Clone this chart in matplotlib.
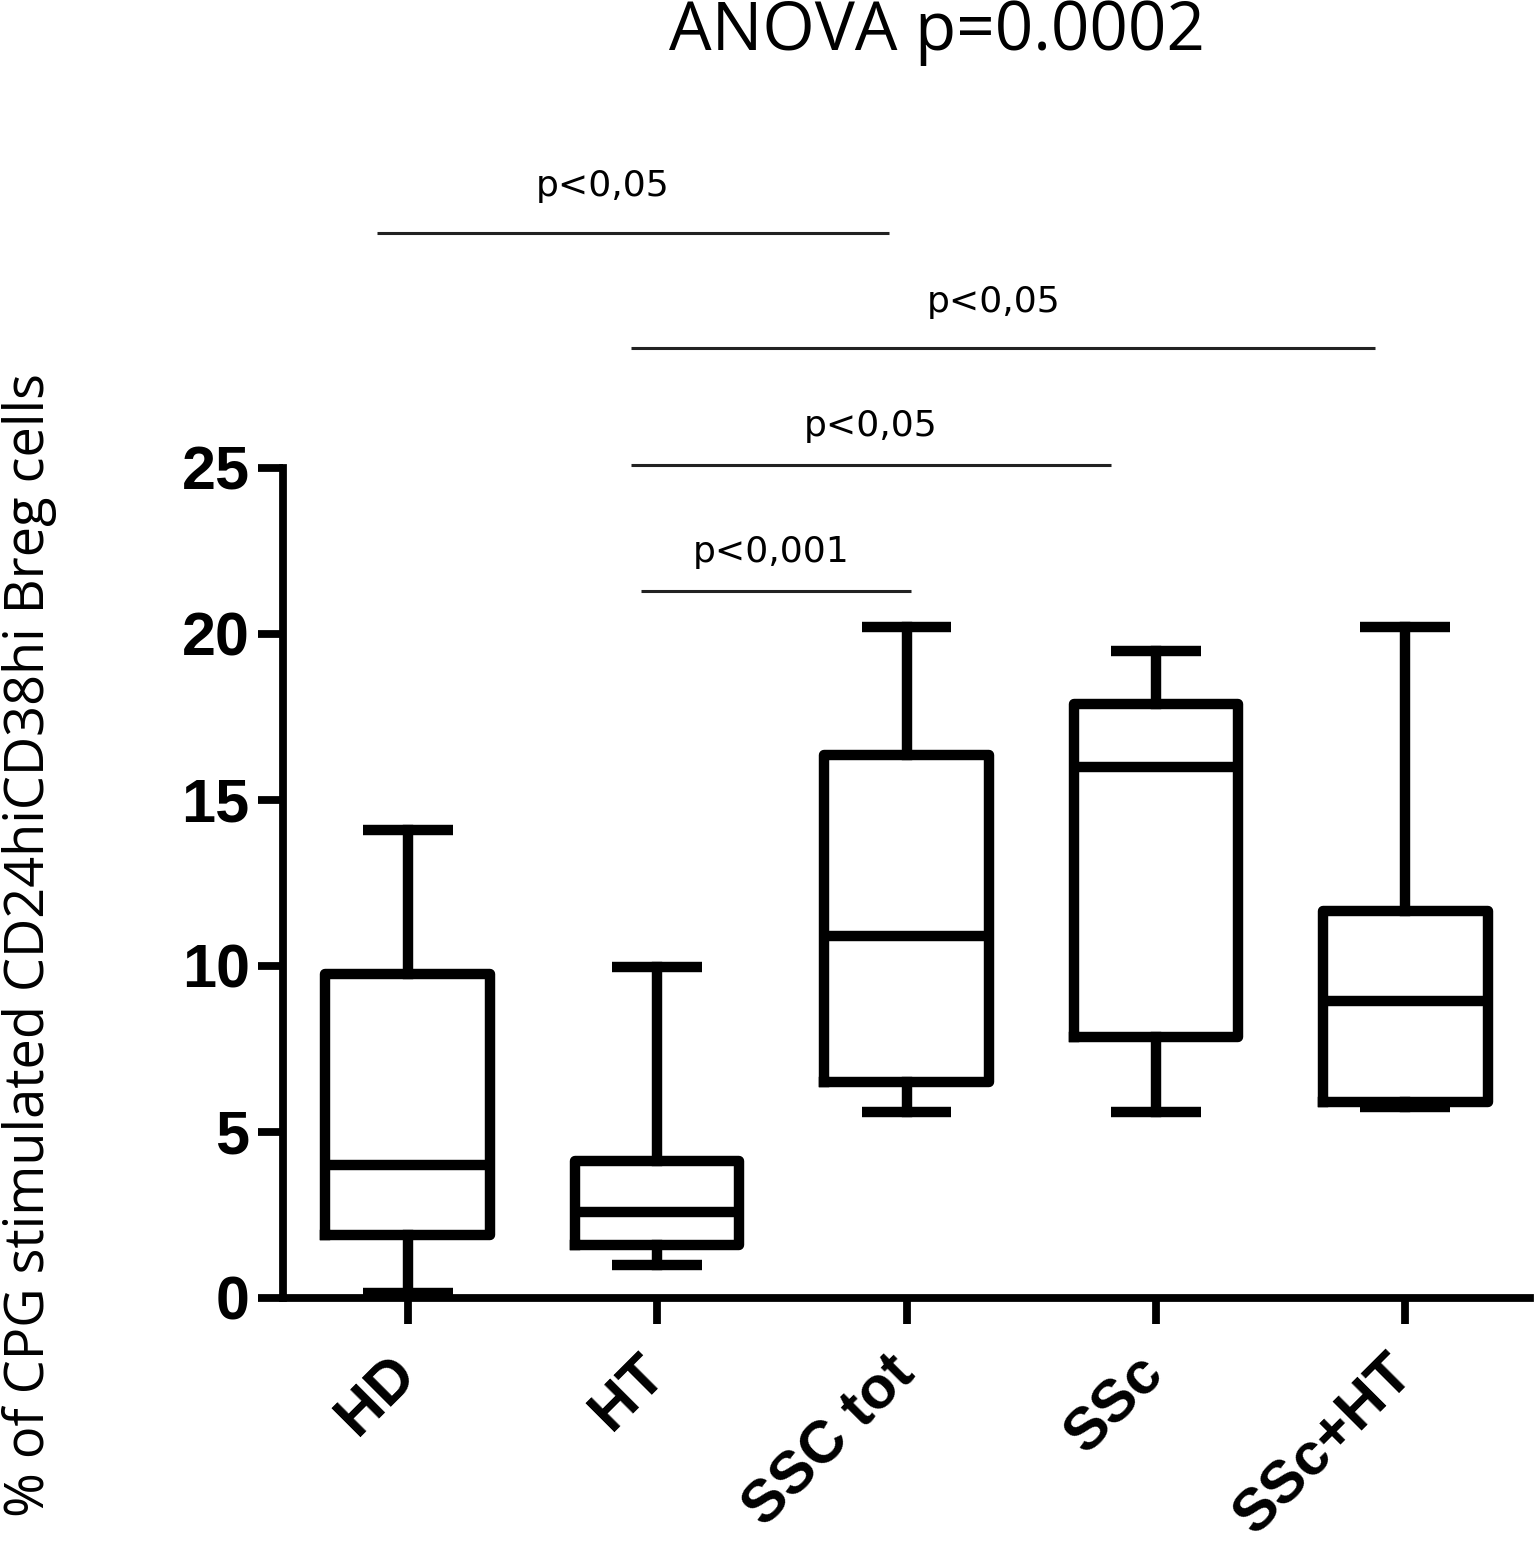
import matplotlib
matplotlib.use("Agg")
import matplotlib.pyplot as plt
from matplotlib.transforms import ScaledTranslation

# ---- data ----
categories = ["HD", "HT", "SSC tot", "SSc", "SSc+HT"]
whisker_low = [0.15, 1.0, 5.6, 5.6, 5.75]
q1 = [1.9, 1.6, 6.5, 7.85, 5.9]
median = [4.0, 2.6, 10.9, 16.0, 8.95]
q3 = [9.75, 4.12, 16.35, 17.9, 11.65]
whisker_high = [14.1, 9.97, 20.2, 19.5, 20.2]
yticks = [0, 5, 10, 15, 20, 25]

# significance annotations
sig_labels = ["p<0,05", "p<0,05", "p<0,05", "p<0,001"]
sig_x0 = [-0.125, 0.896, 0.896, 0.936]
sig_x1 = [1.93, 3.88, 2.82, 2.02]
sig_y = [32.08, 28.61, 25.09, 21.3]
sig_text_x = [0.78, 2.35, 1.855, 1.458]
sig_text_y = [33.2, 29.7, 25.96, 22.17]

W, H = 1535, 1548
fig = plt.figure(figsize=(W / 100, H / 100), dpi=100)
ax = fig.add_axes([283 / W, 1 - 1298 / H, (1530 - 283) / W, (1298 - 468) / H])

stats = []
for i, c in enumerate(categories):
    stats.append(dict(label=c, whislo=whisker_low[i], q1=q1[i], med=median[i],
                      q3=q3[i], whishi=whisker_high[i], fliers=[]))

lw = 7.5
positions = list(range(len(categories)))
ax.bxp(stats, positions=positions, widths=0.66, showfliers=False,
       boxprops=dict(linewidth=lw, color="black"),
       medianprops=dict(linewidth=lw, color="black"),
       whiskerprops=dict(linewidth=lw, color="black"),
       capprops=dict(linewidth=lw, color="black", solid_capstyle="butt"),
       capwidths=0.36, manage_ticks=False)

ax.set_xlim(-0.5, 4.5)
ax.set_ylim(0, 25)
ax.spines["top"].set_visible(False)
ax.spines["right"].set_visible(False)
for s in ["left", "bottom"]:
    ax.spines[s].set_linewidth(5.6)
    ax.spines[s].set_capstyle("projecting")

ax.set_yticks(yticks)
ax.set_yticklabels([str(v) for v in yticks], fontfamily="Liberation Sans",
                   fontweight="bold", fontsize=44)
ax.set_xticks(positions)
ax.set_xticklabels(categories, fontfamily="Liberation Sans", fontweight="bold",
                   fontsize=43, rotation=45, ha="right", rotation_mode="anchor")
ax.tick_params(axis="y", direction="out", length=18, width=5.6, pad=6)
ax.tick_params(axis="x", direction="out", length=19, width=5.6, pad=15)
offset = ScaledTranslation(-20 / 100, 0, fig.dpi_scale_trans)
for lab in ax.get_xticklabels():
    lab.set_transform(lab.get_transform() + offset)

for x0, x1, y, lab, tx, ty in zip(sig_x0, sig_x1, sig_y, sig_labels, sig_text_x, sig_text_y):
    ax.plot([x0, x1], [y, y], color="#222222", linewidth=2.2, clip_on=False,
            solid_capstyle="butt")
    ax.text(tx, ty, lab, ha="center", va="baseline", fontsize=26,
            fontfamily="DejaVu Sans", clip_on=False)

fig.text(937 / W, 1 - 50 / H, "ANOVA p=0.0002", ha="center", va="baseline",
         fontsize=48.5, fontfamily="Open Sans")
fig.text(30 / W, 1 - 945 / H, "% of CPG stimulated CD24hiCD38hi Breg cells",
         rotation=90, ha="center", va="center", fontsize=39, fontfamily="Open Sans")

fig.savefig("out.png", dpi=100, facecolor="white")
